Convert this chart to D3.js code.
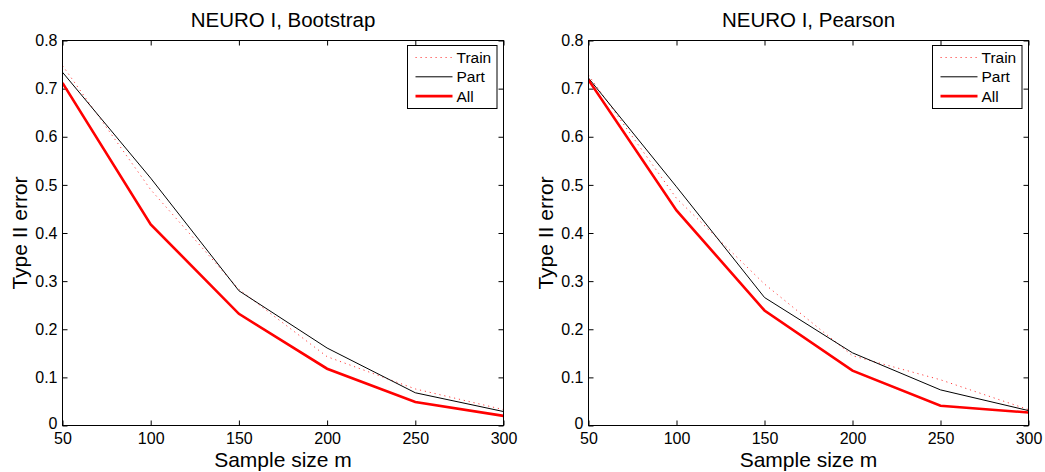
<!DOCTYPE html>
<html><head><meta charset="utf-8">
<script src="https://cdn.jsdelivr.net/npm/d3@7"></script>
<style>body{margin:0;background:#fff;} text{font-family:"Liberation Sans",Arial,sans-serif;fill:#000;}</style>
</head><body>
<svg id="c" width="1045" height="472"></svg>
<script>
const sampleSizes = [50, 100, 150, 200, 250, 300];
const xTicks = [50, 100, 150, 200, 250, 300];
const yTicks = [0, 0.1, 0.2, 0.3, 0.4, 0.5, 0.6, 0.7, 0.8];
const titles = ["NEURO I, Bootstrap", "NEURO I, Pearson"];
const seriesNames = ["Train", "Part", "All"];
const bootTrain = [0.748, 0.49, 0.283, 0.143, 0.076, 0.033];
const bootPart  = [0.734, 0.514, 0.280, 0.161, 0.068, 0.029];
const bootAll   = [0.712, 0.418, 0.232, 0.118, 0.049, 0.020];
const pearTrain = [0.728, 0.472, 0.294, 0.145, 0.095, 0.033];
const pearPart  = [0.722, 0.496, 0.266, 0.151, 0.074, 0.031];
const pearAll   = [0.718, 0.447, 0.239, 0.114, 0.041, 0.027];

const panels = [
  {title: titles[0], x0: 62.5, x1: 503.5, series: [bootTrain, bootPart, bootAll]},
  {title: titles[1], x0: 588.5, x1: 1028.5, series: [pearTrain, pearPart, pearAll]}
];
const styles = [
  {stroke: "#ff0000", width: 1, dash: "1.2,3.8", opacity: 0.75},
  {stroke: "#000000", width: 1, dash: null, opacity: 1},
  {stroke: "#ff0000", width: 2.6, dash: null, opacity: 1}
];
const yTop = 40.5, yBot = 425.5;
const svg = d3.select("#c");
const tickFont = 16;

panels.forEach(p => {
  const x = d3.scaleLinear().domain([50, 300]).range([p.x0, p.x1]);
  const y = d3.scaleLinear().domain([0, 0.8]).range([yBot, yTop]);
  const g = svg.append("g");
  g.append("rect").attr("x", p.x0).attr("y", yTop).attr("width", p.x1 - p.x0).attr("height", yBot - yTop)
    .attr("fill", "#fff").attr("stroke", "#000").attr("stroke-width", 1);
  const tl = 5;
  const ax = [
    g.append("g").attr("transform", `translate(0,${yBot})`).call(d3.axisBottom(x).tickValues(xTicks).tickSizeInner(-tl).tickSizeOuter(0).tickPadding(7).tickFormat(d3.format("d"))),
    g.append("g").attr("transform", `translate(0,${yTop})`).call(d3.axisTop(x).tickValues(xTicks).tickSizeInner(-tl).tickSizeOuter(0).tickFormat("")),
    g.append("g").attr("transform", `translate(${p.x0},0)`).call(d3.axisLeft(y).tickValues(yTicks).tickSizeInner(-tl).tickSizeOuter(0).tickPadding(5).tickFormat(d => d === 0 ? "0" : d3.format(".1f")(d))),
    g.append("g").attr("transform", `translate(${p.x1},0)`).call(d3.axisRight(y).tickValues(yTicks).tickSizeInner(-tl).tickSizeOuter(0).tickFormat(""))
  ];
  ax.forEach(a => {
    a.select(".domain").remove();
    a.selectAll("text").attr("font-size", tickFont).attr("font-family", "Liberation Sans, Arial, sans-serif").attr("fill", "#000");
    a.selectAll("line").attr("stroke", "#000");
  });
  ax[0].selectAll("text").attr("dy", "0.72em");
  ax[2].selectAll("text").filter(d => d === 0).attr("dy", "0.2em");
  const line = d3.line().x((d, i) => x(sampleSizes[i])).y(d => y(d));
  const clipId = "clip" + Math.round(p.x0);
  g.append("clipPath").attr("id", clipId).append("rect").attr("x", p.x0).attr("y", yTop - 5).attr("width", p.x1 - p.x0 + 2).attr("height", yBot - yTop + 5);
  p.series.forEach((s, k) => {
    const st = styles[k];
    g.append("path").datum(s).attr("d", line).attr("fill", "none")
      .attr("stroke", st.stroke).attr("stroke-width", st.width).attr("stroke-opacity", st.opacity)
      .attr("stroke-dasharray", st.dash).attr("clip-path", `url(#${clipId})`);
  });
  g.append("rect").attr("x", p.x0).attr("y", yTop).attr("width", p.x1 - p.x0).attr("height", yBot - yTop)
    .attr("fill", "none").attr("stroke", "#000").attr("stroke-width", 1);
  g.append("text").attr("x", (p.x0 + p.x1) / 2).attr("y", 27).attr("text-anchor", "middle").attr("font-size", 20.5).text(p.title);
  g.append("text").attr("x", (p.x0 + p.x1) / 2).attr("y", 467).attr("text-anchor", "middle").attr("font-size", 21).text("Sample size m");
  g.append("text").attr("transform", `translate(${p.x0 - 36},${(yTop + yBot) / 2}) rotate(-90)`).attr("text-anchor", "middle").attr("font-size", 21).text("Type II error");
  const lx = p.x1 - 96, ly = 45.5;
  g.append("rect").attr("x", lx).attr("y", ly).attr("width", 89.5).attr("height", 63).attr("fill", "#fff").attr("stroke", "#000").attr("stroke-width", 1);
  seriesNames.forEach((n, k) => {
    const st = styles[k];
    const yy = ly + 12 + k * 19.3;
    g.append("line").attr("x1", lx + 8).attr("x2", lx + 45).attr("y1", yy).attr("y2", yy)
      .attr("stroke", st.stroke).attr("stroke-width", st.width).attr("stroke-opacity", st.opacity).attr("stroke-dasharray", st.dash);
    g.append("text").attr("x", lx + 49).attr("y", yy + 5.5).attr("font-size", 15.5).text(n);
  });
});
</script>
</body></html>
